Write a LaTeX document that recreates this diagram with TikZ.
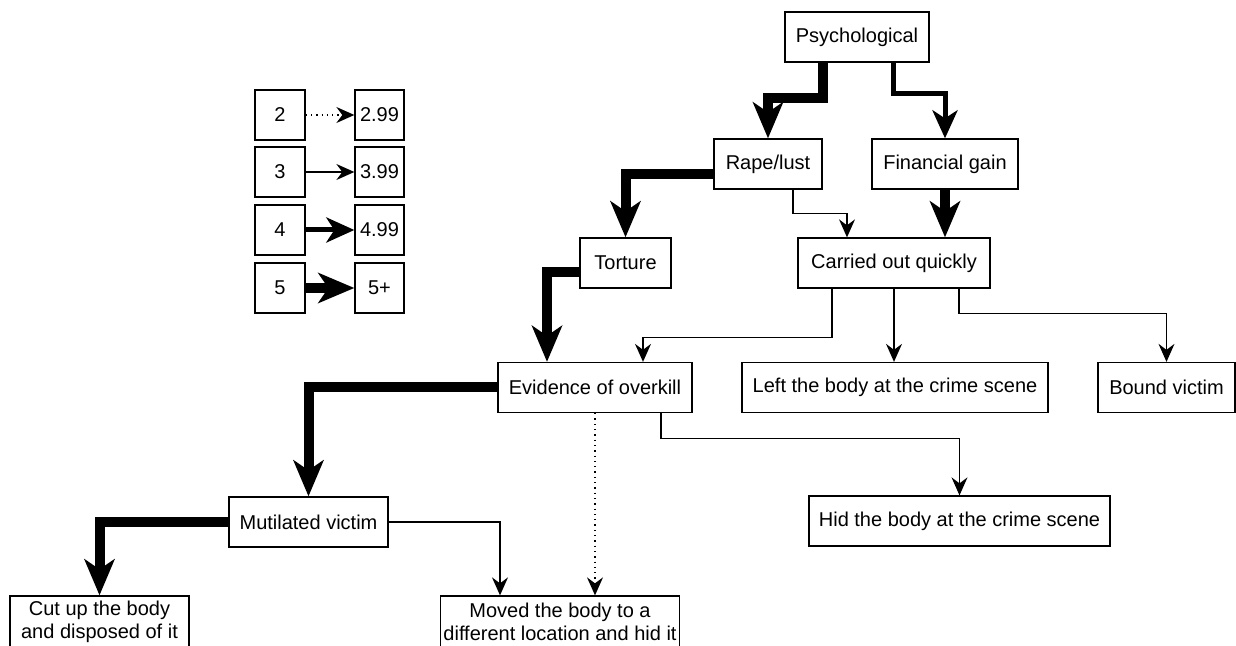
\documentclass[tikz,border=0pt]{standalone}
\usepackage{fontspec}
\setmainfont{Liberation Sans}
\usetikzlibrary{arrows.meta}

\tikzset{
	box/.style={draw, line width=0.65pt, minimum height=25pt, inner sep=1.5pt, align=center, font=\fontsize{10}{11.5}\selectfont},
	lvltwo/.style={line width=0.65pt, dotted, -{Stealth[length=9pt, width=8pt, inset=3pt]}},
	lvlthree/.style={line width=0.65pt, -{Stealth[length=9pt, width=8pt, inset=3pt]}},
	lvlfour/.style={line width=2.5pt, -{Stealth[length=14pt, width=12.5pt, inset=4pt]}},
	lvlfive/.style={line width=5pt, -{Stealth[length=18pt, width=15pt, inset=5pt]}},
}

\begin{document}
\begin{tikzpicture}[x=0.5pt, y=-0.5pt]
	\useasboundingbox (0,0) rectangle (1236,646);

	% legend
	\foreach \n/\lbl/\lvl/\y in {2/2.99/lvltwo/115, 3/3.99/lvlthree/172, 4/4.99/lvlfour/230, 5/5+/lvlfive/288} {
		\node[box, minimum width=25pt] (key\n) at (280,\y) {\n};
		\node[box, minimum width=24.5pt] (val\n) at (379.5,\y) {\lbl};
		\draw[\lvl] (key\n) -- (val\n);
	}

	% motives
	\node[box, minimum width=72pt] (psych) at (857,37) {Psychological};
	\node[box, minimum width=54pt] (rape) at (768,164) {Rape/lust};
	\node[box, minimum width=73pt] (fin) at (945,164) {Financial gain};

	% how it was done
	\node[box, minimum width=45.5pt] (tort) at (625.5,263) {Torture};
	\node[box, minimum width=96pt] (quick) at (894,263) {Carried out quickly};
	\node[box, minimum width=97pt] (overkill) at (595,387.5) {Evidence of overkill};
	\node[box, minimum width=153pt] (leftbody) at (895,387.5) {Left the body at the crime scene};
	\node[box, minimum width=68.5pt] (bound) at (1166.5,387.5) {Bound victim};
	\node[box, minimum width=150.5pt] (hid) at (959.5,521) {Hid the body at the crime scene};
	\node[box, minimum width=79.5pt] (mutil) at (308.5,522) {Mutilated victim};
	\node[box, minimum width=89.5pt, minimum height=26pt] (cutup) at (99.5,622) {Cut up the body\\and disposed of it};
	\node[box, minimum width=119pt, minimum height=26pt] (moved) at (560,622) {Moved the body to a\\different location and hid it};

	% links
	\draw[lvlfive] ([xshift=-17pt]psych.south) -- ++(0,35) -| (rape.north);
	\draw[lvlfour] ([xshift=18pt]psych.south) -- ++(0,31) -| (fin.north);
	\draw[lvlthree] ([xshift=12.5pt]rape.south) -- ++(0,24) -| ([xshift=-23.5pt]quick.north);
	\draw[lvlfive] (fin.south) -- (fin.south |- quick.north);
	\draw[lvlfive] ([yshift=-5pt]rape.west) -| (tort.north);
	\draw[lvlfive] ([yshift=-4.5pt]tort.west) -| ([xshift=-24pt]overkill.north);
	\draw[lvlthree] ([xshift=-31pt]quick.south) -- ++(0,49) -| ([xshift=24pt]overkill.north);
	\draw[lvlthree] (quick.south) -- (quick.south |- leftbody.north);
	\draw[lvlthree] ([xshift=32.5pt]quick.south) -- ++(0,25) -| (bound.north);
	\draw[lvlfive] (overkill.west) -| (mutil.north);
	\draw[lvltwo] (overkill.south) -- (overkill.south |- moved.north);
	\draw[lvlthree] ([xshift=33pt]overkill.south) -- ++(0,25) -| (hid.north);
	\draw[lvlfive] (mutil.west) -| (cutup.north);
	\draw[lvlthree] (mutil.east) -| ([xshift=-30pt]moved.north);

\end{tikzpicture}
\end{document}
